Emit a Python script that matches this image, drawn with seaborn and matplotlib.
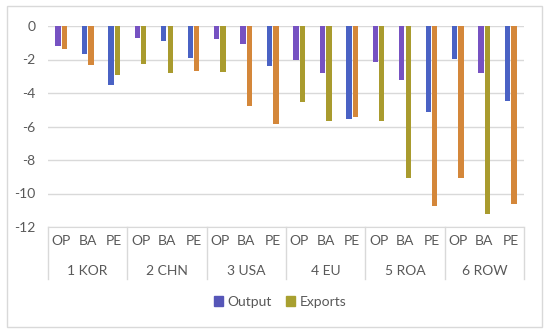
import numpy as np
import pandas as pd
import seaborn as sns
import matplotlib.pyplot as plt
from matplotlib.patches import Rectangle
from matplotlib.transforms import blended_transform_factory

# data
regions = ["1 KOR", "2 CHN", "3 USA", "4 EU", "5 ROA", "6 ROW"]
scenarios = ["OP", "BA", "PE"]
output = [-1.2, -1.7, -3.5,
          -0.7, -0.9, -1.9,
          -0.8, -1.1, -2.4,
          -2.05, -2.8, -5.55,
          -2.15, -3.25, -5.15,
          -1.95, -2.8, -4.45]
exports = [-1.4, -2.3, -2.9,
           -2.25, -2.8, -2.7,
           -2.75, -4.75, -5.85,
           -4.55, -5.65, -5.45,
           -5.7, -9.1, -10.75,
           -9.05, -11.2, -10.6]

rows = []
for i, reg in enumerate(regions):
    for j, sc in enumerate(scenarios):
        k = i * 3 + j
        rows.append((reg + "|" + sc, "Output", output[k]))
        rows.append((reg + "|" + sc, "Exports", exports[k]))
df = pd.DataFrame(rows, columns=["cat", "series", "value"])
order = [r + "|" + s for r in regions for s in scenarios]

# the bars in the picture alternate between two shades per series
out_shade = [1, 0, 0, 1, 0, 0, 1, 1, 0, 1, 1, 0, 1, 1, 0, 0, 1, 0]
exp_shade = [1, 1, 0, 0, 0, 1, 0, 1, 1, 0, 0, 1, 0, 0, 1, 1, 0, 1]
out_cols = ["#4a62c4", "#7652c2"]
exp_cols = ["#a99b2e", "#d4873a"]

plt.rcParams['font.family'] = ['Lato', 'DejaVu Sans']
fig = plt.figure(figsize=(5.5, 3.34), dpi=100)
ax = fig.add_axes([48 / 550, 1 - 227 / 334, 476 / 550, 201 / 334])

sns.barplot(data=df, x="cat", y="value", hue="series", order=order,
            hue_order=["Output", "Exports"],
            palette={"Output": "#5656b8", "Exports": "#a8a030"},
            width=0.49, gap=0.18, ax=ax, legend=False)

for p, s in zip(ax.containers[0], out_shade):
    p.set_facecolor(out_cols[s])
for p, s in zip(ax.containers[1], exp_shade):
    p.set_facecolor(exp_cols[s])

ax.set_ylim(-12, 0)
ax.set_xlim(-0.5, len(order) - 0.5)
ax.set_yticks(np.arange(-12, 1, 2))
ax.set_yticklabels([str(v) for v in range(-12, 1, 2)])
ax.grid(axis="y", color="#d9d9d9", linewidth=1)
ax.set_axisbelow(True)
for sp in ["left", "right", "top"]:
    ax.spines[sp].set_visible(False)
ax.spines["bottom"].set_color("#d9d9d9")
ax.tick_params(axis="both", length=0, colors="#595959", labelsize=10)
ax.tick_params(axis="y", pad=9)
ax.tick_params(axis="x", pad=6)
ax.set_xticks(range(len(order)))
ax.set_xticklabels(scenarios * len(regions))
ax.set_xlabel("")
ax.set_ylabel("")

# second level of the category axis
trans = blended_transform_factory(ax.transData, ax.transAxes)
for i, reg in enumerate(regions):
    ax.text(i * 3 + 1, -0.22, reg, transform=trans, ha="center", va="center",
            fontsize=10, color="#595959")
for b in range(len(regions) + 1):
    ax.plot([b * 3 - 0.5, b * 3 - 0.5], [0, -0.26], transform=trans,
            color="#d9d9d9", linewidth=1, clip_on=False)

handles = [Rectangle((0, 0), 1, 1, color="#5656b8"),
           Rectangle((0, 0), 1, 1, color="#a8a030")]
leg = fig.legend(handles, ["Output", "Exports"], loc="center",
                 bbox_to_anchor=(280 / 550, 1 - 302 / 334), ncol=2, frameon=False,
                 handlelength=0.7, handleheight=0.7, handletextpad=0.3,
                 columnspacing=1.0, fontsize=10)
for t in leg.get_texts():
    t.set_color("#595959")

fig.patches.append(Rectangle((7 / 550, 1 - 327 / 334), 535 / 550, 321 / 334,
                             transform=fig.transFigure, fill=False,
                             edgecolor="#d9d9d9", linewidth=1))

fig.savefig("out.png", dpi=100)
